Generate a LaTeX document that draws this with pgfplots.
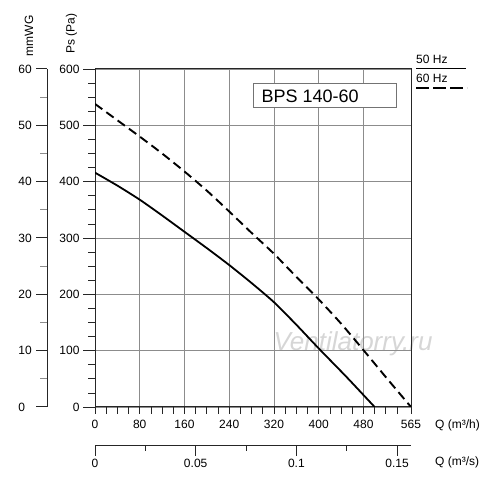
\documentclass[border=0pt]{standalone}
\usepackage{fontspec}
\setmainfont{Liberation Sans}
\usepackage{pgfplots}
\pgfplotsset{compat=1.18}
\begin{document}
\begin{tikzpicture}[x=1pt,y=1pt, font=\fontsize{12}{14}\selectfont]
\path[use as bounding box] (0,0) rectangle (500,486);
% watermark
\node[font=\fontsize{26}{28}\selectfont\itshape, text=black!16] at (353,142) {Ventilatorry.ru};
% main axis
\begin{axis}[
  at={(95pt,79pt)}, anchor=south west,
  scale only axis, width=316pt, height=338pt,
  xmin=0, xmax=565, ymin=0, ymax=600,
  xtick={0,80,160,240,320,400,480,565},
  minor xtick={20,40,60,100,120,140,180,200,220,260,280,300,340,360,380,420,440,460,500,520,540},
  ytick={0,100,200,300,400,500,600},
  minor ytick={25,50,75,125,150,175,225,250,275,325,350,375,425,450,475,525,550,575},
  yticklabels={},
  tick align=outside, tick pos=left,
  major tick length=7pt, minor tick length=7pt,
  xmajorgrids, ymajorgrids,
  major grid style={color=black!45, line width=0.8pt},
  axis line style={black!85, line width=1pt},
  tick style={black!85, line width=0.8pt},
  every tick label/.append style={font=\fontsize{12}{14}\selectfont},
  xticklabel style={yshift=-3pt},
  /pgf/number format/assume math mode=true,
]
\addplot[black, line width=1.8pt, smooth, tension=0.4] coordinates {
(0,416) (40,393) (80,368) (120,340) (160,311) (200,282) (240,252) (280,220) (320,186) (360,146) (400,104) (450,53) (500,0)};
\addplot[black, line width=1.9pt, dash pattern=on 9pt off 5pt, smooth, tension=0.4] coordinates {
(0,538) (40,509) (80,480) (120,450) (160,418) (200,384) (240,347) (280,309) (320,272) (360,231) (400,191) (440,148) (480,101) (520,53) (565,0)};
\end{axis}
% Pa tick overlay (long major ticks + labels)
\begin{axis}[
  at={(95pt,79pt)}, anchor=south west,
  scale only axis, width=316pt, height=338pt,
  xmin=0, xmax=565, ymin=0, ymax=600,
  hide x axis,
  axis line style={draw=none},
  ytick={0,100,200,300,400,500,600},
  tick align=outside, ytick pos=left,
  major tick length=12pt,
  tick style={black!85, line width=0.8pt},
  every tick label/.append style={font=\fontsize{12}{14}\selectfont},
  /pgf/number format/assume math mode=true,
]
\addplot[draw=none] coordinates {(0,0)};
\end{axis}
% mmWG axis
\begin{axis}[
  at={(47pt,79pt)}, anchor=south west,
  scale only axis, width=20pt, height=338pt,
  xmin=0, xmax=1, ymin=0, ymax=60,
  hide x axis,
  axis y line=left,
  axis line style={-, black!85, line width=1pt},
  ytick={0,10,20,30,40,50,60},
  minor ytick={5,15,25,35,45,55},
  tick align=outside,
  major tick length=11pt, minor tick length=7pt,
  major tick style={black!85, line width=1pt},
  minor tick style={black!45, line width=1pt},
  yticklabel style={text width=14pt, align=left},
  every tick label/.append style={font=\fontsize{12}{14}\selectfont},
  /pgf/number format/assume math mode=true,
]
\addplot[draw=none] coordinates {(0,0)};
\end{axis}
% m3/s axis
\begin{axis}[
  at={(95pt,40pt)}, anchor=south west,
  scale only axis, width=316pt, height=10pt,
  xmin=0, xmax=0.156944, ymin=0, ymax=1,
  hide y axis,
  axis x line=bottom,
  axis line style={-, black!85, line width=1pt},
  xtick={0,0.05,0.1,0.15},
  xticklabels={0,0.05,0.1,0.15},
  minor xtick={0.025,0.075,0.125},
  tick align=outside,
  major tick length=10pt, minor tick length=5pt,
  tick style={black!85, line width=1pt},
  every tick label/.append style={font=\fontsize{12}{14}\selectfont},
]
\addplot[draw=none] coordinates {(0,0)};
\end{axis}
% axis titles
\node[rotate=90, inner sep=0] at (29,450) {mmWG};
\node[rotate=90, inner sep=0] at (71.5,452) {Ps (Pa)};
\node[anchor=west, inner sep=0] at (435,61) {Q (m³/h)};
\node[anchor=west, inner sep=0] at (435,24) {Q (m³/s)};
% model box
\draw[black!55, line width=0.8pt, fill=white] (253,379) rectangle (396,403);
\node[anchor=base west, inner sep=0, font=\fontsize{18}{20}\selectfont] at (261.5,383.5) {BPS 140-60};
% legend
\node[anchor=base west, inner sep=0] at (416,422) {50 Hz};
\draw[black, line width=1pt] (416,417.7) -- (466,417.7);
\node[anchor=base west, inner sep=0] at (416,403.5) {60 Hz};
\draw[black, line width=2pt, dash pattern=on 13pt off 4pt] (416,398.3) -- (467,398.3);
\end{tikzpicture}
\end{document}
